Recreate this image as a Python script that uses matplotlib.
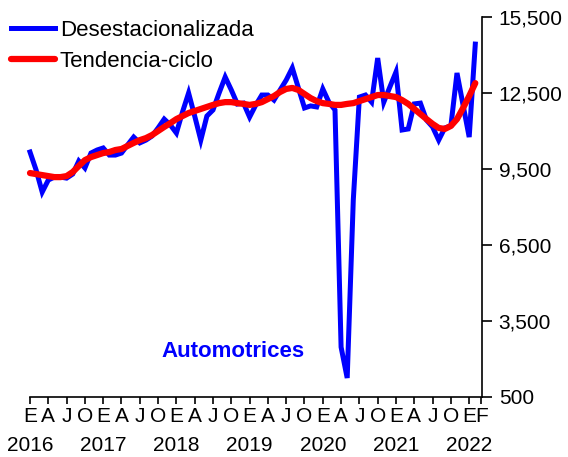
"""Automotrices: serie desestacionalizada y tendencia-ciclo, ene 2016 - feb 2022."""

import numpy as np
import matplotlib.pyplot as plt
from matplotlib.ticker import FuncFormatter

plt.rcParams['font.family'] = ['Liberation Sans', 'DejaVu Sans']

# Datos mensuales, enero 2016 a febrero 2022
desestacionalizada = [
    10170, 9460, 8590, 9065, 9180, 9180, 9140, 9300, 9815, 9540, 10130, 10250,   # 2016
    10330, 10050, 10050, 10130, 10450, 10760, 10530, 10640, 10800, 11120, 11470, 11240,  # 2017
    10920, 11750, 12500, 11590, 10640, 11590, 11830, 12500, 13130, 12620, 12065, 12100,  # 2018
    11550, 12020, 12420, 12420, 12220, 12620, 13010, 13490, 12700, 11910, 11990, 11950,  # 2019
    12660, 12140, 11830, 2470, 1250, 8280, 12340, 12420, 12140, 13880, 12140, 12740,     # 2020
    13330, 11040, 11080, 12070, 12100, 11430, 11160, 10640, 11120, 11200, 13290, 12020,  # 2021
    10760, 14430,                                                                       # 2022
]
tendencia = [
    9340, 9300, 9260, 9220, 9180, 9180, 9220, 9380, 9620, 9850, 9970, 10050,
    10130, 10170, 10250, 10290, 10410, 10530, 10640, 10720, 10840, 11000, 11160, 11310,
    11470, 11590, 11710, 11790, 11870, 11950, 12030, 12100, 12140, 12140, 12100, 12070,
    12030, 12070, 12140, 12260, 12380, 12540, 12660, 12700, 12620, 12460, 12300, 12180,
    12100, 12070, 12030, 12030, 12070, 12100, 12180, 12260, 12340, 12420, 12420, 12380,
    12340, 12220, 12070, 11870, 11670, 11470, 11280, 11120, 11080, 11200, 11470, 11910,
    12380, 12890,
]

# Etiquetas del eje x: trimestres (E, A, J, O) y F final
letras = ['E', 'A', 'J', 'O'] * 6 + ['E', 'F']
pos_letras = list(range(0, 73, 3)) + [74]
anios = ['2016', '2017', '2018', '2019', '2020', '2021', '2022']
pos_anios = [0, 12, 24, 36, 48, 60, 72]
yticks = [500, 3500, 6500, 9500, 12500, 15500]

t = np.arange(len(desestacionalizada))

fig = plt.figure(figsize=(5.68, 4.57), dpi=100)
ax = fig.add_axes([30 / 568, 60 / 457, 452 / 568, 380 / 457])

ax.plot(t, desestacionalizada, color='#0000ff', lw=3.6, label='Desestacionalizada',
        clip_on=False, solid_joinstyle='miter')
ax.plot(t, tendencia, color='#ff0000', lw=4.5, label='Tendencia-ciclo',
        clip_on=False, solid_capstyle='round')

ax.set_xlim(0, 74.1)
ax.set_ylim(500, 15500)

# Ejes: solo inferior y derecho
for s in ['left', 'top']:
    ax.spines[s].set_visible(False)
ax.spines['bottom'].set_linewidth(1.2)
ax.spines['right'].set_linewidth(1.2)

ax.yaxis.tick_right()
ax.set_yticks(yticks)
ax.yaxis.set_major_formatter(FuncFormatter(lambda v, p: '{:,.0f}'.format(v)))
ax.tick_params(axis='y', direction='out', length=7, width=1.2, pad=5, labelsize=15)

ax.set_xticks(pos_letras)
ax.set_xticklabels(letras)
ax.tick_params(axis='x', direction='out', length=5, width=1.2, pad=2, labelsize=15)

for a, p in zip(anios, pos_anios):
    ax.text(p, -0.128, a, transform=ax.get_xaxis_transform(), ha='center', va='center',
            fontsize=15)

ax.text(0.449, 0.121, 'Automotrices', transform=ax.transAxes, ha='center', va='center',
        fontsize=16, fontweight='bold', color='#0000ff')

fig.legend(loc='upper left', bbox_to_anchor=(11 / 568, 1 - 20 / 457), frameon=False,
           fontsize=16, handlelength=2.0, handletextpad=0.2, borderpad=0,
           labelspacing=0.45, borderaxespad=0)

fig.savefig('out.png', dpi=100)
